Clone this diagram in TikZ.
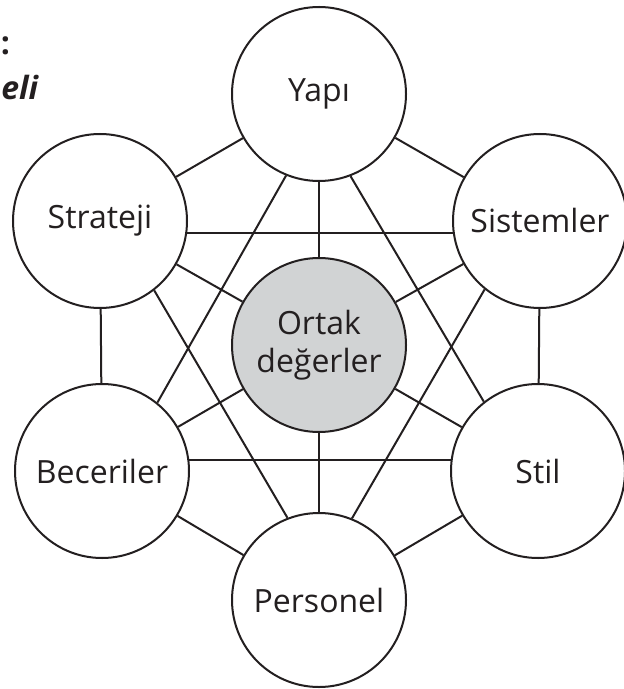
\documentclass[tikz,border=0pt]{standalone}
\usepackage{fontspec}
\setmainfont{Open Sans}
\definecolor{ink}{HTML}{231F20}
\definecolor{coregray}{HTML}{D1D3D4}

\begin{document}
\begin{tikzpicture}[x=0.5pt,y=-0.5pt,
    factor/.style={circle, draw=ink, line width=1pt, fill=white, minimum size=87pt,
      inner sep=0pt, text=ink, font=\fontsize{16}{19}\selectfont},
    core/.style={factor, fill=coregray, align=center},
    link/.style={draw=ink, line width=1pt}]
  \useasboundingbox (0,0) rectangle (624,689);
  % cut-off heading
  \node[anchor=base west, inner sep=0pt, text=ink, font=\fontsize{16}{19}\selectfont\bfseries] (headA) at (0.5,55) {:};
  \node[anchor=base west, inner sep=0pt, text=ink, font=\fontsize{16}{19}\selectfont\bfseries\itshape] (headB) at (1,100) {eli};
  % the seven circles
  \node[core] (ort) at (319,345) {Ortak\\değerler};
  \node[factor] (yap) at (319,94) {Yapı};
  \node[factor] (str) at (100,221) {Strateji};
  \node[factor] (sys) at (540,221) {Sistemler};
  \node[factor] (bec) at (102,471) {Beceriler};
  \node[factor] (stil) at (538,471) {Stil};
  \node[factor] (per) at (319,600) {Personel};
  % outer ring
  \foreach \a/\b in {yap/sys, sys/stil, stil/per, per/bec, bec/str, str/yap}
    \draw[link] (\a) -- (\b);
  % spokes
  \foreach \n in {yap, sys, stil, per, bec, str}
    \draw[link] (ort) -- (\n);
  % long chords, shifted toward the middle
  \draw[link] (str.-8) -- (sys.188);
  \draw[link] (bec.7) -- (stil.173);
  \draw[link] (yap.248.6) -- (bec.51.6);
  \draw[link] (yap.291.7) -- (stil.128.7);
  \draw[link] (str.308.6) -- (per.111.6);
  \draw[link] (sys.231.4) -- (per.68.4);
\end{tikzpicture}
\end{document}
